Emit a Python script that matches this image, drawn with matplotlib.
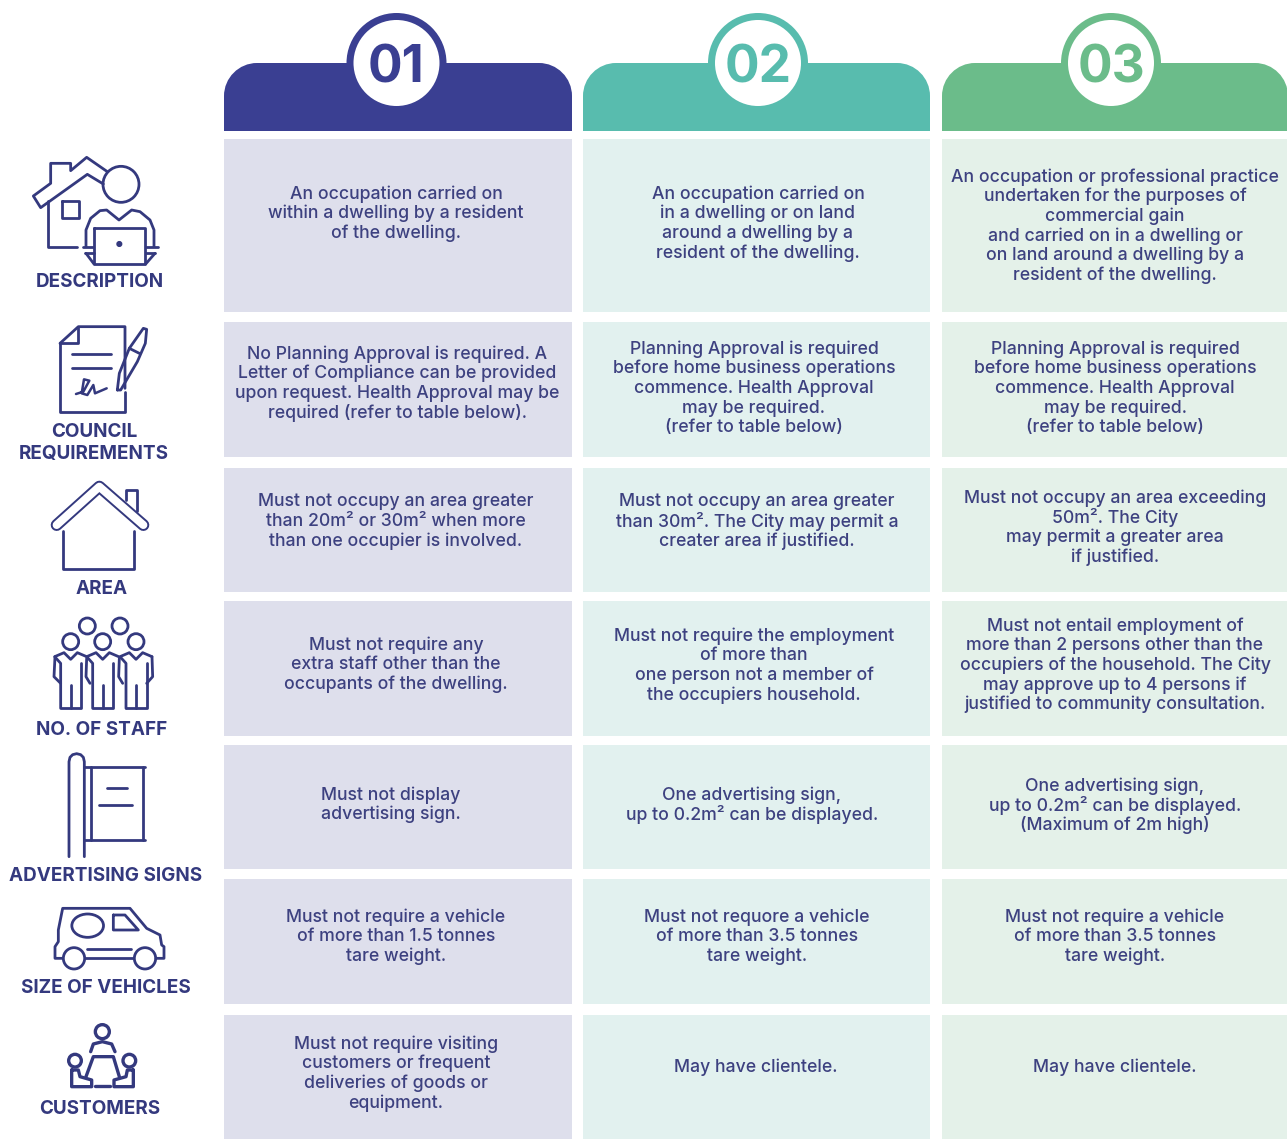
import matplotlib
matplotlib.use("Agg")
import matplotlib.pyplot as plt
from matplotlib.patches import Circle, Ellipse, Rectangle, PathPatch
from matplotlib.path import Path

ICON = "#34397E"
TEXT = "#3D4180"

column_labels = ["01", "02", "03"]
column_colors = ["#3A3F92", "#58BCAE", "#6BBC8A"]
cell_colors = ["#DEDFEC", "#E2F1EF", "#E4F1E9"]

column_left = [224, 583, 942]
column_right = [572, 930, 1290]
circle_x = [396.5, 758, 1111]
row_top = [139, 322, 468, 601, 745, 879, 1015]
row_bottom = [312, 457, 592, 736, 869, 1004, 1142]

row_labels = [
    ["DESCRIPTION"],
    ["COUNCIL", "REQUIREMENTS"],
    ["AREA"],
    ["NO. OF STAFF"],
    ["ADVERTISING SIGNS"],
    ["SIZE OF VEHICLES"],
    ["CUSTOMERS"],
]
label_x = [100, 94, 102, 102, 106, 106, 100]
label_y = [282, 432, 589, 730, 876, 988, 1109]

col1 = [
    "An occupation carried on\nwithin a dwelling by a resident\nof the dwelling.",
    "No Planning Approval is required. A\nLetter of Compliance can be provided\nupon request. Health Approval may be\nrequired (refer to table below).",
    "Must not occupy an area greater\nthan 20m² or 30m² when more\nthan one occupier is involved.",
    "Must not require any\nextra staff other than the\noccupants of the dwelling.",
    "Must not display\nadvertising sign.",
    "Must not require a vehicle\nof more than 1.5 tonnes\ntare weight.",
    "Must not require visiting\ncustomers or frequent\ndeliveries of goods or\nequipment.",
]
col2 = [
    "An occupation carried on\nin a dwelling or on land\naround a dwelling by a\nresident of the dwelling.",
    "Planning Approval is required\nbefore home business operations\ncommence. Health Approval\nmay be required.\n(refer to table below)",
    "Must not occupy an area greater\nthan 30m². The City may permit a\ncreater area if justified.",
    "Must not require the employment\nof more than\none person not a member of\nthe occupiers household.",
    "One advertising sign,\nup to 0.2m² can be displayed.",
    "Must not requore a vehicle\nof more than 3.5 tonnes\ntare weight.",
    "May have clientele.",
]
col3 = [
    "An occupation or professional practice\nundertaken for the purposes of\ncommercial gain\nand carried on in a dwelling or\non land around a dwelling by a\nresident of the dwelling.",
    "Planning Approval is required\nbefore home business operations\ncommence. Health Approval\nmay be required.\n(refer to table below)",
    "Must not occupy an area exceeding\n50m². The City\nmay permit a greater area\nif justified.",
    "Must not entail employment of\nmore than 2 persons other than the\noccupiers of the household. The City\nmay approve up to 4 persons if\njustified to community consultation.",
    "One advertising sign,\nup to 0.2m² can be displayed.\n(Maximum of 2m high)",
    "Must not require a vehicle\nof more than 3.5 tonnes\ntare weight.",
    "May have clientele.",
]
columns = [col1, col2, col3]

# centre x of the text in every cell
text_x = [
    [396, 758, 1115],
    [397, 754, 1115],
    [396, 757, 1115],
    [396, 754, 1115],
    [391, 752, 1115],
    [396, 757, 1115],
    [396, 756, 1115],
]
# y of the first text line in every cell
first_line_y = [
    [194, 194, 177],
    [354, 349, 349],
    [502, 502, 498],
    [645, 636, 626],
    [795, 795, 786],
    [917, 917, 917],
    [1044, 1067, 1067],
]
LINE_STEP = 19.6

plt.rcParams["font.family"] = ["Inter", "DejaVu Sans"]

fig = plt.figure(figsize=(12.87, 11.39), dpi=100)
ax = fig.add_axes([0, 0, 1, 1])
ax.set_xlim(0, 1287)
ax.set_ylim(1139, 0)
ax.axis("off")


def header(x0, x1, cx, color, label):
    top, bottom, r = 63, 131, 33
    k = 0.55 * r
    verts = [(x0, bottom), (x0, top + r), (x0, top + r - k), (x0 + r - k, top), (x0 + r, top),
             (x1 - r, top), (x1 - r + k, top), (x1, top + r - k), (x1, top + r),
             (x1, bottom), (x0, bottom)]
    codes = [Path.MOVETO, Path.LINETO, Path.CURVE4, Path.CURVE4, Path.CURVE4,
             Path.LINETO, Path.CURVE4, Path.CURVE4, Path.CURVE4,
             Path.LINETO, Path.CLOSEPOLY]
    ax.add_patch(PathPatch(Path(verts, codes), fc=color, ec="none"))
    ax.add_patch(Circle((cx, 63), 50, fc=color, ec="none"))
    ax.add_patch(Circle((cx, 63), 43, fc="white", ec="none"))
    ax.text(cx, 69, label, color=color, fontsize=37, fontweight="bold",
            ha="center", va="center")


# icons are traced in zoom-crop units: 3 units per pixel, offset by oy
def line(pts, oy, lw=2.0, close=False):
    xs = [p[0] / 3 for p in pts]
    ys = [p[1] / 3 + oy for p in pts]
    if close:
        xs.append(xs[0])
        ys.append(ys[0])
    ax.plot(xs, ys, color=ICON, lw=lw, solid_joinstyle="round", solid_capstyle="round")


def ring(x, y, r, oy, lw=2.0, fill="none"):
    ax.add_patch(Circle((x / 3, y / 3 + oy), r / 3, fc=fill, ec=ICON, lw=lw))


def icon_description():
    oy = 140
    line([(310, 132), (262, 103), (122, 203), (100, 168), (152, 130), (152, 70), (212, 70),
          (212, 92), (260, 52), (322, 95)], oy)
    ring(363, 133, 54, oy)
    line([(145, 182), (145, 320), (232, 320)], oy)
    line([(185, 183), (238, 183), (238, 235), (185, 235)], oy, close=True)
    line([(258, 320), (258, 270), (272, 235), (300, 212), (320, 210), (357, 240), (395, 210),
          (420, 215), (450, 240), (462, 270), (462, 320)], oy)
    line([(282, 265), (435, 265), (435, 372), (282, 372)], oy, close=True)
    ring(358, 312, 6, oy, lw=1.5, fill=ICON)
    line([(248, 320), (280, 320)], oy)
    line([(437, 320), (475, 320)], oy)
    line([(255, 340), (282, 340)], oy)
    line([(437, 340), (465, 340)], oy)
    line([(258, 340), (282, 372)], oy)
    line([(465, 340), (437, 372)], oy)


def icon_council():
    oy = 140
    line([(180, 610), (235, 560), (375, 560), (375, 745)], oy)
    line([(375, 755), (375, 815), (180, 815), (180, 610)], oy)
    line([(180, 610), (235, 610), (235, 560)], oy)
    line([(215, 642), (333, 642)], oy)
    line([(215, 683), (333, 683)], oy)
    line([(228, 762), (250, 755), (268, 722), (252, 718), (245, 760), (262, 765), (280, 735),
          (285, 760), (320, 745)], oy, lw=1.8)
    line([(352, 750), (358, 700), (388, 625), (430, 565), (440, 568), (436, 610), (412, 665),
          (362, 750), (352, 750)], oy)
    line([(388, 625), (418, 640)], oy)


def icon_area():
    oy = 470
    ax.plot([170 / 3, 298 / 3, 430 / 3], [165 / 3 + oy, 50 / 3 + oy, 165 / 3 + oy], color=ICON,
            lw=8.6, solid_capstyle="round", solid_joinstyle="round")
    ax.plot([170 / 3, 298 / 3, 430 / 3], [165 / 3 + oy, 50 / 3 + oy, 165 / 3 + oy], color="white",
            lw=5.8, solid_capstyle="round", solid_joinstyle="round")
    line([(190, 182), (190, 297), (403, 297), (403, 182)], oy)
    line([(378, 90), (378, 60), (410, 60), (410, 122)], oy)


def icon_staff():
    oy = 470
    for x, y in [(262, 468), (360, 468), (212, 515), (308, 515), (408, 515)]:
        ring(x, y, 24, oy)
    for c in [212, 308, 408]:
        line([(c - 30, 715), (c - 30, 580), (c - 48, 560), (c - 20, 548), (c, 568), (c + 20, 548),
              (c + 48, 560)], oy)
        line([(c - 30, 715), (c + 32, 715), (c + 32, 580)], oy)
        line([(c, 645), (c, 715)], oy)
    line([(165, 560), (162, 620), (182, 640)], oy)
    line([(456, 560), (458, 620), (440, 640)], oy)
    line([(260, 565), (258, 620), (270, 640)], oy)
    line([(358, 565), (356, 620), (368, 640)], oy)


def icon_signs():
    oy = 740
    line([(207, 350), (207, 65), (210, 52), (218, 44), (230, 41), (242, 44), (250, 52),
          (253, 65), (253, 350)], oy)
    line([(253, 80), (435, 80)], oy)
    line([(253, 300), (435, 300)], oy)
    line([(272, 80), (272, 300)], oy)
    line([(430, 80), (430, 300)], oy)
    line([(320, 145), (380, 145)], oy)
    line([(297, 195), (397, 195)], oy)


def icon_vehicles():
    oy = 740
    line([(188, 655), (165, 655), (165, 620), (175, 605), (175, 570), (188, 505), (390, 505),
          (440, 565), (480, 585), (485, 615), (492, 620), (492, 655), (468, 655)], oy)
    ring(222, 655, 32, oy)
    ring(435, 655, 32, oy)
    ax.add_patch(Ellipse((263 / 3, 557 / 3 + oy), 95 / 3, 70 / 3, fc="none", ec=ICON, lw=2))
    line([(340, 525), (375, 525), (415, 570), (340, 570)], oy, close=True)
    line([(262, 628), (392, 628)], oy)
    line([(255, 655), (400, 655)], oy)


def icon_customers():
    oy = 740
    ring(307, 875, 21, oy, lw=2.4)
    line([(272, 935), (280, 912), (307, 905), (335, 912), (345, 935)], oy, lw=2.4)
    line([(258, 1010), (280, 950), (340, 950), (358, 1010)], oy, lw=2.4)
    ring(225, 962, 19, oy, lw=2.4)
    ring(388, 962, 19, oy, lw=2.4)
    line([(215, 990), (215, 1040), (275, 1040), (275, 1020), (240, 1010), (235, 990)], oy, lw=2.4, close=True)
    line([(400, 990), (400, 1040), (342, 1040), (342, 1020), (378, 1010), (382, 990)], oy, lw=2.4, close=True)
    line([(285, 1037), (330, 1037)], oy, lw=2.4)


for i, label in enumerate(column_labels):
    header(column_left[i], column_right[i] if i < 2 else 1288, circle_x[i], column_colors[i], label)
    for r in range(len(row_top)):
        ax.add_patch(Rectangle((column_left[i], row_top[r]), column_right[i] - column_left[i],
                               row_bottom[r] - row_top[r], fc=cell_colors[i], ec="none"))
        for n, txt in enumerate(columns[i][r].split("\n")):
            ax.text(text_x[r][i], first_line_y[r][i] + n * LINE_STEP, txt, color=TEXT,
                    fontsize=12.7, fontweight="medium", ha="center", va="center")

for r, lines in enumerate(row_labels):
    for n, txt in enumerate(lines):
        ax.text(label_x[r], label_y[r] + n * 22, txt, color=ICON, fontsize=13.6, fontweight="bold",
                ha="center", va="center")

icon_description()
icon_council()
icon_area()
icon_staff()
icon_signs()
icon_vehicles()
icon_customers()

fig.savefig("out.png", dpi=100)
